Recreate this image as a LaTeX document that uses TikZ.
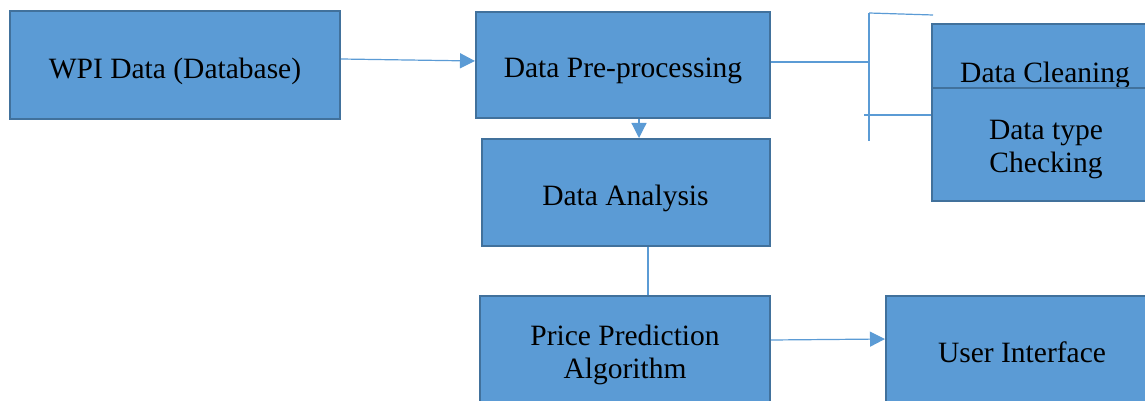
\documentclass[tikz,border=0pt]{standalone}
\usepackage{fontspec}
\setmainfont{Liberation Serif}
\usetikzlibrary{arrows.meta}
\definecolor{boxfill}{HTML}{5B9BD5}
\definecolor{boxline}{HTML}{41719C}
\tikzset{
  blk/.style={draw=boxline, line width=2pt, fill=boxfill, inner sep=0pt},
  lbl/.style={align=center, font=\fontsize{29.5}{33}\selectfont, inner sep=0pt},
  conn/.style={draw=boxfill, line width=1.2pt},
  arr/.style={conn, -{Triangle[length=15pt,width=15pt]}}
}
\begin{document}
\begin{tikzpicture}[x=1pt,y=-1pt]
\useasboundingbox (0,0) rectangle (1145,401);
\clip (0,0) rectangle (1145,401);
\node[blk, minimum width=330pt, minimum height=108pt] (wpi) at (175,65) {};
\node[lbl] (wpit) at (175,71) {WPI Data (Database)};
\node[blk, minimum width=294pt, minimum height=106pt] (pre) at (623,65) {};
\node[lbl] (pret) at (623,71) {Data Pre-processing};
\node[blk, minimum width=288pt, minimum height=107pt] (ana) at (626,192.5) {};
\node[lbl] (anat) at (625.5,198) {Data Analysis};
\node[blk, minimum width=290pt, minimum height=112pt] (pred) at (625,352) {};
\node[lbl] (predt) at (625,354.5) {Price Prediction\\Algorithm};
\node[blk, minimum width=270pt, minimum height=112pt] (ui) at (1021,352) {};
\node[lbl] (uit) at (1022,352.5) {User Interface};
\node[blk, minimum width=230pt, minimum height=64pt] (clean) at (1047,56) {};
\node[lbl] (cleant) at (1045,75) {Data Cleaning};
\node[blk, minimum width=230pt, minimum height=113pt] (type) at (1047,144.5) {};
\node[lbl] (typet) at (1046,150) {Data type\\Checking};
% connectors
\draw[arr] (wpi.east |- 0,59) -- (pre.west |- 0,61);
\draw[arr] (pre.south -| 639,0) -- (ana.north -| 639,0);
\draw[conn] (ana.south -| 648,0) -- (pred.north -| 648,0);
\draw[arr] (pred.east |- 0,340) -- (ui.west |- 0,339);
% bracket
\coordinate (bt) at (869,13);
\coordinate (bb) at (869,141);
\coordinate (bm) at (869,62);
\coordinate (tl) at (933,15);
\coordinate (ll) at (864,115);
\draw[conn] (bt) -- (bb);
\draw[conn] (bt) -- (tl);
\draw[conn] (pre.east |- bm) -- (bm);
\draw[conn] (ll) -- (type.west |- ll);
\end{tikzpicture}
\end{document}
